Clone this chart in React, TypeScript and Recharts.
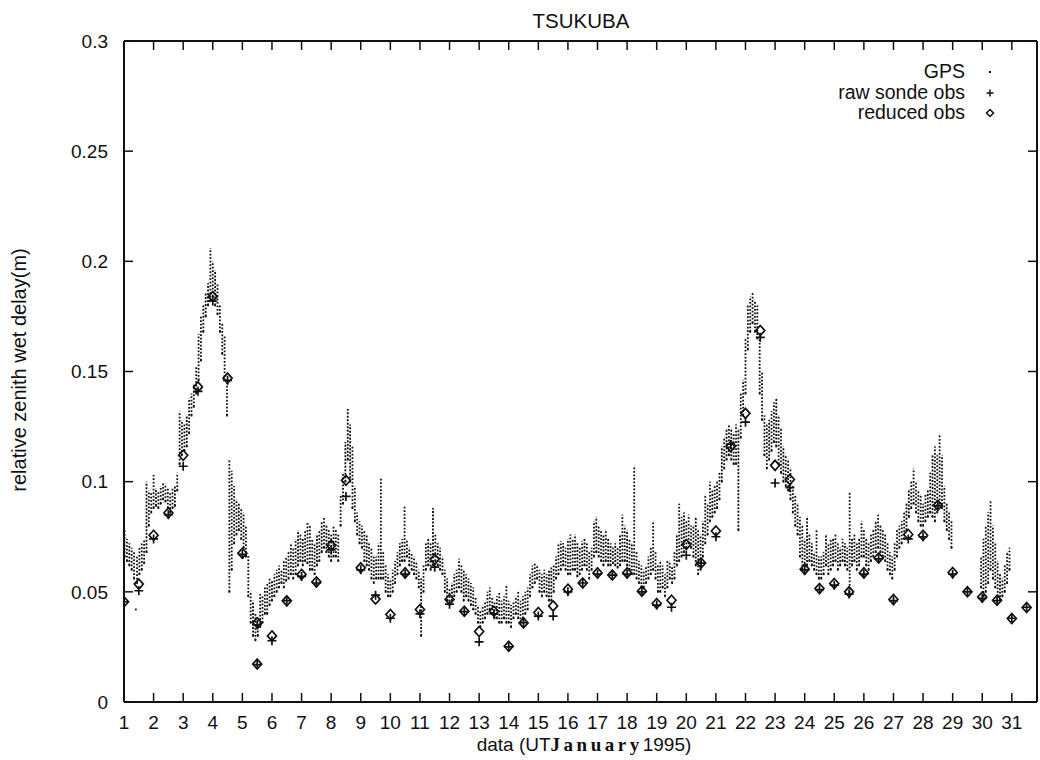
import React from 'react';
import { ScatterChart, Scatter, XAxis, YAxis, ErrorBar, Legend } from 'recharts';

const dayTicks = [1, 2, 3, 4, 5, 6, 7, 8, 9, 10, 11, 12, 13, 14, 15, 16, 17, 18, 19, 20, 21, 22, 23, 24, 25, 26, 27, 28, 29, 30, 31];
const delayTicks = [0, 0.05, 0.1, 0.15, 0.2, 0.25, 0.3];
const delayLabels = ['0', '0.05', '0.1', '0.15', '0.2', '0.25', '0.3'];

// GPS: [day, low, high] of each dotted column
const gpsRanges: [number, number, number][] = [
  [1.02, 0.066, 0.078], [1.1, 0.064, 0.074], [1.18, 0.062, 0.072], [1.26, 0.06, 0.07], [1.34, 0.056, 0.068],
  [1.4, 0.042, 0.042], [1.44, 0.054, 0.066], [1.52, 0.058, 0.07], [1.6, 0.06, 0.072], [1.68, 0.063, 0.074],
  [1.76, 0.068, 0.1], [1.84, 0.08, 0.096], [1.92, 0.086, 0.095], [2.0, 0.088, 0.103], [2.08, 0.089, 0.097],
  [2.16, 0.088, 0.096], [2.24, 0.09, 0.098], [2.32, 0.092, 0.1], [2.4, 0.091, 0.099], [2.48, 0.088, 0.097],
  [2.56, 0.086, 0.095], [2.64, 0.088, 0.097], [2.72, 0.089, 0.098], [2.8, 0.096, 0.104], [2.88, 0.108, 0.132],
  [2.96, 0.112, 0.128], [3.04, 0.114, 0.126], [3.12, 0.116, 0.13], [3.2, 0.122, 0.138], [3.28, 0.13, 0.14],
  [3.36, 0.134, 0.144], [3.44, 0.14, 0.152], [3.52, 0.146, 0.167], [3.6, 0.155, 0.175], [3.68, 0.168, 0.18],
  [3.76, 0.175, 0.186], [3.84, 0.18, 0.19], [3.92, 0.182, 0.206], [4.0, 0.184, 0.2], [4.08, 0.18, 0.196],
  [4.16, 0.176, 0.19], [4.24, 0.168, 0.18], [4.32, 0.158, 0.172], [4.4, 0.146, 0.166], [4.48, 0.13, 0.146],
  [4.56, 0.05, 0.11], [4.64, 0.06, 0.105], [4.72, 0.072, 0.098], [4.8, 0.076, 0.092], [4.88, 0.078, 0.09],
  [4.96, 0.074, 0.088], [5.04, 0.07, 0.086], [5.12, 0.066, 0.08], [5.2, 0.048, 0.067], [5.28, 0.036, 0.05],
  [5.36, 0.03, 0.046], [5.44, 0.028, 0.04], [5.52, 0.03, 0.038], [5.6, 0.034, 0.049], [5.68, 0.036, 0.048],
  [5.76, 0.04, 0.052], [5.84, 0.04, 0.054], [5.92, 0.044, 0.056], [6.0, 0.046, 0.055], [6.08, 0.048, 0.058],
  [6.16, 0.05, 0.06], [6.24, 0.052, 0.062], [6.32, 0.054, 0.06], [6.4, 0.052, 0.064], [6.48, 0.055, 0.066],
  [6.56, 0.056, 0.068], [6.64, 0.058, 0.072], [6.72, 0.056, 0.07], [6.8, 0.058, 0.074], [6.88, 0.062, 0.078],
  [6.96, 0.064, 0.076], [7.04, 0.062, 0.074], [7.12, 0.064, 0.078], [7.2, 0.063, 0.082], [7.28, 0.06, 0.08],
  [7.36, 0.06, 0.074], [7.44, 0.058, 0.072], [7.52, 0.062, 0.076], [7.6, 0.064, 0.078], [7.68, 0.068, 0.082],
  [7.76, 0.07, 0.084], [7.84, 0.068, 0.08], [7.92, 0.066, 0.078], [8.0, 0.064, 0.076], [8.08, 0.066, 0.08],
  [8.16, 0.066, 0.078], [8.24, 0.064, 0.076], [8.32, 0.08, 0.094], [8.4, 0.09, 0.104], [8.48, 0.1, 0.118],
  [8.56, 0.11, 0.133], [8.64, 0.1, 0.126], [8.72, 0.088, 0.116], [8.8, 0.082, 0.098], [8.88, 0.076, 0.086],
  [8.96, 0.072, 0.082], [9.04, 0.07, 0.08], [9.12, 0.064, 0.078], [9.2, 0.062, 0.076], [9.28, 0.06, 0.072],
  [9.36, 0.056, 0.07], [9.44, 0.054, 0.066], [9.52, 0.056, 0.066], [9.6, 0.056, 0.072], [9.68, 0.056, 0.102],
  [9.76, 0.056, 0.068], [9.84, 0.05, 0.062], [9.92, 0.048, 0.058], [10.0, 0.048, 0.056], [10.08, 0.05, 0.06],
  [10.16, 0.054, 0.064], [10.24, 0.058, 0.068], [10.32, 0.062, 0.072], [10.4, 0.064, 0.074], [10.48, 0.064, 0.089],
  [10.56, 0.066, 0.074], [10.64, 0.062, 0.07], [10.72, 0.06, 0.068], [10.8, 0.058, 0.066], [10.88, 0.056, 0.064],
  [10.96, 0.052, 0.06], [11.04, 0.03, 0.056], [11.12, 0.05, 0.062], [11.2, 0.06, 0.072], [11.28, 0.062, 0.074],
  [11.36, 0.06, 0.072], [11.44, 0.062, 0.088], [11.52, 0.064, 0.076], [11.6, 0.062, 0.072], [11.68, 0.06, 0.07],
  [11.76, 0.058, 0.066], [11.84, 0.05, 0.06], [11.92, 0.046, 0.056], [12.0, 0.044, 0.052], [12.08, 0.046, 0.054],
  [12.16, 0.048, 0.058], [12.24, 0.05, 0.06], [12.32, 0.052, 0.065], [12.4, 0.05, 0.062], [12.48, 0.046, 0.06],
  [12.56, 0.048, 0.058], [12.64, 0.046, 0.056], [12.72, 0.044, 0.054], [12.8, 0.042, 0.052], [12.88, 0.04, 0.048],
  [12.96, 0.036, 0.044], [13.04, 0.034, 0.042], [13.12, 0.036, 0.044], [13.2, 0.038, 0.046], [13.28, 0.04, 0.05],
  [13.36, 0.042, 0.052], [13.44, 0.04, 0.048], [13.52, 0.038, 0.046], [13.6, 0.038, 0.048], [13.68, 0.036, 0.05],
  [13.76, 0.036, 0.046], [13.84, 0.038, 0.048], [13.92, 0.036, 0.053], [14.0, 0.036, 0.046], [14.08, 0.034, 0.044],
  [14.16, 0.038, 0.046], [14.24, 0.04, 0.048], [14.32, 0.038, 0.05], [14.4, 0.036, 0.046], [14.48, 0.038, 0.048],
  [14.56, 0.04, 0.05], [14.64, 0.042, 0.052], [14.72, 0.048, 0.058], [14.8, 0.052, 0.062], [14.88, 0.054, 0.063],
  [14.96, 0.056, 0.062], [15.04, 0.05, 0.06], [15.12, 0.048, 0.058], [15.2, 0.05, 0.06], [15.28, 0.048, 0.058],
  [15.36, 0.046, 0.06], [15.44, 0.046, 0.061], [15.52, 0.05, 0.062], [15.6, 0.056, 0.066], [15.68, 0.058, 0.072],
  [15.76, 0.06, 0.073], [15.84, 0.062, 0.072], [15.92, 0.06, 0.07], [16.0, 0.058, 0.074], [16.08, 0.058, 0.076],
  [16.16, 0.06, 0.074], [16.24, 0.06, 0.076], [16.32, 0.057, 0.072], [16.4, 0.058, 0.07], [16.48, 0.06, 0.073],
  [16.56, 0.062, 0.074], [16.64, 0.06, 0.072], [16.72, 0.056, 0.068], [16.8, 0.06, 0.07], [16.88, 0.066, 0.082],
  [16.96, 0.068, 0.084], [17.04, 0.066, 0.08], [17.12, 0.064, 0.078], [17.2, 0.062, 0.076], [17.28, 0.064, 0.078],
  [17.36, 0.062, 0.074], [17.44, 0.062, 0.072], [17.52, 0.063, 0.07], [17.6, 0.062, 0.072], [17.68, 0.061, 0.07],
  [17.76, 0.062, 0.076], [17.84, 0.064, 0.085], [17.92, 0.064, 0.08], [18.0, 0.062, 0.078], [18.08, 0.06, 0.074],
  [18.16, 0.058, 0.072], [18.24, 0.058, 0.107], [18.32, 0.056, 0.068], [18.4, 0.054, 0.064], [18.48, 0.052, 0.062],
  [18.56, 0.052, 0.06], [18.64, 0.054, 0.062], [18.72, 0.056, 0.066], [18.8, 0.058, 0.07], [18.88, 0.06, 0.082],
  [18.96, 0.056, 0.068], [19.04, 0.05, 0.062], [19.12, 0.05, 0.064], [19.2, 0.052, 0.062], [19.28, 0.048, 0.058],
  [19.36, 0.052, 0.064], [19.44, 0.056, 0.064], [19.52, 0.054, 0.062], [19.6, 0.056, 0.068], [19.68, 0.062, 0.076],
  [19.76, 0.064, 0.09], [19.84, 0.066, 0.084], [19.92, 0.068, 0.086], [20.0, 0.07, 0.082], [20.08, 0.072, 0.085],
  [20.16, 0.07, 0.08], [20.24, 0.066, 0.08], [20.32, 0.062, 0.084], [20.4, 0.058, 0.078], [20.48, 0.06, 0.076],
  [20.56, 0.066, 0.082], [20.64, 0.072, 0.094], [20.72, 0.076, 0.09], [20.8, 0.082, 0.1], [20.88, 0.084, 0.096],
  [20.96, 0.086, 0.098], [21.04, 0.088, 0.1], [21.12, 0.092, 0.104], [21.2, 0.1, 0.116], [21.28, 0.106, 0.12],
  [21.36, 0.11, 0.124], [21.44, 0.112, 0.126], [21.52, 0.11, 0.124], [21.6, 0.108, 0.122], [21.68, 0.108, 0.126],
  [21.76, 0.078, 0.124], [21.84, 0.12, 0.14], [21.92, 0.13, 0.146], [22.0, 0.14, 0.165], [22.08, 0.16, 0.18],
  [22.16, 0.168, 0.184], [22.24, 0.172, 0.186], [22.32, 0.168, 0.182], [22.4, 0.165, 0.18], [22.48, 0.14, 0.166],
  [22.56, 0.128, 0.15], [22.64, 0.112, 0.13], [22.72, 0.106, 0.126], [22.8, 0.11, 0.128], [22.88, 0.114, 0.132],
  [22.96, 0.118, 0.136], [23.04, 0.116, 0.138], [23.12, 0.108, 0.13], [23.2, 0.104, 0.124], [23.28, 0.1, 0.116],
  [23.36, 0.098, 0.112], [23.44, 0.096, 0.11], [23.52, 0.092, 0.106], [23.6, 0.086, 0.098], [23.68, 0.08, 0.094],
  [23.76, 0.076, 0.09], [23.84, 0.066, 0.084], [23.92, 0.06, 0.08], [24.0, 0.058, 0.074], [24.08, 0.062, 0.084],
  [24.16, 0.064, 0.076], [24.24, 0.062, 0.072], [24.32, 0.06, 0.068], [24.4, 0.058, 0.078], [24.48, 0.056, 0.066],
  [24.56, 0.056, 0.066], [24.64, 0.058, 0.068], [24.72, 0.062, 0.076], [24.8, 0.058, 0.072], [24.88, 0.06, 0.074],
  [24.96, 0.062, 0.074], [25.04, 0.064, 0.076], [25.12, 0.06, 0.072], [25.2, 0.062, 0.07], [25.28, 0.064, 0.074],
  [25.36, 0.062, 0.072], [25.44, 0.06, 0.07], [25.52, 0.048, 0.095], [25.6, 0.062, 0.074], [25.68, 0.064, 0.076],
  [25.76, 0.06, 0.072], [25.84, 0.062, 0.074], [25.92, 0.066, 0.082], [26.0, 0.066, 0.078], [26.08, 0.062, 0.074],
  [26.16, 0.06, 0.072], [26.24, 0.064, 0.076], [26.32, 0.066, 0.078], [26.4, 0.068, 0.082], [26.48, 0.07, 0.085],
  [26.56, 0.068, 0.08], [26.64, 0.066, 0.078], [26.72, 0.064, 0.076], [26.8, 0.06, 0.072], [26.88, 0.058, 0.068],
  [26.96, 0.056, 0.066], [27.04, 0.06, 0.072], [27.12, 0.066, 0.078], [27.2, 0.07, 0.08], [27.28, 0.072, 0.082],
  [27.36, 0.074, 0.086], [27.44, 0.078, 0.09], [27.52, 0.084, 0.096], [27.6, 0.088, 0.1], [27.68, 0.09, 0.106],
  [27.76, 0.086, 0.1], [27.84, 0.082, 0.096], [27.92, 0.08, 0.094], [28.0, 0.08, 0.09], [28.08, 0.082, 0.094],
  [28.16, 0.084, 0.096], [28.24, 0.086, 0.104], [28.32, 0.084, 0.112], [28.4, 0.082, 0.116], [28.48, 0.086, 0.112],
  [28.56, 0.09, 0.121], [28.64, 0.088, 0.112], [28.72, 0.082, 0.098], [28.8, 0.078, 0.09], [28.88, 0.074, 0.086],
  [28.96, 0.07, 0.082],
  [29.96, 0.052, 0.066], [30.04, 0.048, 0.074], [30.12, 0.05, 0.08], [30.2, 0.054, 0.086], [30.28, 0.06, 0.091],
  [30.36, 0.056, 0.08], [30.44, 0.052, 0.072], [30.52, 0.048, 0.064], [30.6, 0.046, 0.058], [30.68, 0.048, 0.056],
  [30.76, 0.05, 0.062], [30.84, 0.054, 0.068], [30.92, 0.06, 0.07],
];

// sonde launches, twice a day (5.5 has two reports)
const obsDays = [
  1, 1.5, 2, 2.5, 3, 3.5, 4, 4.5, 5, 5.5, 5.5, 6, 6.5, 7, 7.5, 8, 8.5, 9, 9.5, 10, 10.5, 11, 11.5, 12, 12.5,
  13, 13.5, 14, 14.5, 15, 15.5, 16, 16.5, 17, 17.5, 18, 18.5, 19, 19.5, 20, 20.5, 21, 21.5, 22, 22.5, 23, 23.5,
  24, 24.5, 25, 25.5, 26, 26.5, 27, 27.5, 28, 28.5, 29, 29.5, 30, 30.5, 31, 31.5,
];
const rawSondeObs = [
  0.0455, 0.0505, 0.074, 0.085, 0.107, 0.141, 0.182, 0.146, 0.067, 0.035, 0.017, 0.0278, 0.046, 0.057, 0.054,
  0.069, 0.0933, 0.06, 0.0485, 0.038, 0.058, 0.04, 0.0612, 0.0444, 0.041, 0.0273, 0.04, 0.025, 0.036, 0.039,
  0.039, 0.05, 0.054, 0.058, 0.0576, 0.058, 0.05, 0.044, 0.043, 0.0666, 0.063, 0.075, 0.117, 0.127, 0.1655,
  0.0994, 0.0973, 0.06, 0.051, 0.053, 0.049, 0.058, 0.065, 0.046, 0.074, 0.075, 0.089, 0.058, 0.05, 0.047,
  0.046, 0.038, 0.043,
];
const reducedObs = [
  0.0455, 0.0535, 0.0757, 0.0858, 0.112, 0.143, 0.184, 0.147, 0.0675, 0.036, 0.0172, 0.03, 0.0459, 0.0579, 0.0545,
  0.0711, 0.1006, 0.0609, 0.0467, 0.0397, 0.0586, 0.042, 0.0648, 0.0465, 0.0412, 0.032, 0.0412, 0.0253, 0.0359, 0.0406,
  0.0436, 0.0512, 0.054, 0.0586, 0.0576, 0.0586, 0.0503, 0.0447, 0.0462, 0.0715, 0.0631, 0.0776, 0.116, 0.131, 0.1686,
  0.1074, 0.101, 0.0603, 0.0515, 0.0538, 0.05, 0.0586, 0.0654, 0.0465, 0.076, 0.0757, 0.0893, 0.0588, 0.05, 0.0477,
  0.0462, 0.0379, 0.0429,
];

const gpsData = gpsRanges.map(([day, low, high]) => ({ day, value: low, spread: [0, high - low] }));
const rawData = obsDays.map((day, i) => ({ day, value: rawSondeObs[i] }));
const reducedData = obsDays.map((day, i) => ({ day, value: reducedObs[i] }));

const INK = '#111';
const FONT = '"Liberation Sans", Arial, Helvetica, sans-serif';
const TICK_LEN = 9;
const STUB = 1; // recharts' own tick size, kept tiny
const X_GAP = 13; // label offset below the bottom axis
const Y_GAP = 15; // label offset left of the left axis

const GpsDot = (props: any) => (
  <rect x={props.cx - 0.9} y={props.cy - 0.9} width={1.8} height={1.8} fill={INK} />
);
const PlusMark = (props: any) => {
  const { cx, cy } = props;
  return <path d={`M${cx - 4.5},${cy}h9M${cx},${cy - 4.5}v9`} stroke={INK} strokeWidth={1.7} fill="none" />;
};
const DiamondMark = (props: any) => {
  const { cx, cy } = props;
  return (
    <path
      d={`M${cx},${cy - 5}L${cx + 4.5},${cy}L${cx},${cy + 5}L${cx - 4.5},${cy}Z`}
      stroke={INK}
      strokeWidth={1.7}
      fill="none"
    />
  );
};
const NoMark = () => <g />;

// gnuplot style: tick marks point into the plot
const BottomTick = (props: any) => {
  const { x, y, payload } = props;
  const axisY = y - X_GAP - STUB;
  return (
    <g>
      <line x1={x} x2={x} y1={axisY} y2={axisY - TICK_LEN} stroke={INK} strokeWidth={1.5} />
      <text x={x} y={y} dy="0.71em" textAnchor="middle" fill={INK} fontSize={19} fontFamily={FONT}>
        {payload.value}
      </text>
    </g>
  );
};
const LeftTick = (props: any) => {
  const { x, y, payload } = props;
  const axisX = x + Y_GAP + STUB;
  return (
    <g>
      <line x1={axisX} x2={axisX + TICK_LEN} y1={y} y2={y} stroke={INK} strokeWidth={1.5} />
      <text x={x} y={y} dy="0.355em" textAnchor="end" fill={INK} fontSize={19} fontFamily={FONT}>
        {delayLabels[delayTicks.indexOf(payload.value)] ?? payload.value}
      </text>
    </g>
  );
};
const TopTick = (props: any) => {
  const axisY = props.y + STUB;
  return <line x1={props.x} x2={props.x} y1={axisY} y2={axisY + TICK_LEN} stroke={INK} strokeWidth={1.5} />;
};
const RightTick = (props: any) => {
  const axisX = props.x - STUB;
  return <line x1={axisX} x2={axisX - TICK_LEN} y1={props.y} y2={props.y} stroke={INK} strokeWidth={1.5} />;
};

const legendRows = [
  { name: 'GPS', symbol: <rect x={24} y={10} width={2} height={2} fill={INK} /> },
  { name: 'raw sonde obs', symbol: <path d="M21.5,11h7M25,7.5v7" stroke={INK} strokeWidth={1.5} fill="none" /> },
  { name: 'reduced obs', symbol: <path d="M25,7.5L28.5,11L25,14.5L21.5,11Z" stroke={INK} strokeWidth={1.5} fill="none" /> },
];

function renderLegend() {
  return (
    <div style={{ fontFamily: FONT, fontSize: 19.5, color: INK }}>
      {legendRows.map((row) => (
        <div key={row.name} style={{ display: 'flex', height: 20.5, lineHeight: '20.5px' }}>
          <div style={{ width: 265, textAlign: 'right' }}>{row.name}</div>
          <svg width={50} height={20.5}>{row.symbol}</svg>
        </div>
      ))}
    </div>
  );
}

const axisLine = { stroke: INK, strokeWidth: 2 };

export default function App() {
  return (
    <div style={{ position: 'absolute', left: 0, top: 0, background: '#fff' }}>
      <ScatterChart width={1040} height={760} margin={{ top: 40, right: 2, bottom: 18, left: 60 }}>
        <XAxis
          dataKey="day"
          type="number"
          domain={[1, 31.85]}
          ticks={dayTicks}
          allowDataOverflow
          height={40}
          tickSize={STUB}
          tickMargin={X_GAP}
          axisLine={axisLine}
          tickLine={false}
          tick={BottomTick}
          interval={0}
        />
        <XAxis
          xAxisId="top"
          orientation="top"
          dataKey="day"
          type="number"
          domain={[1, 31.85]}
          ticks={dayTicks}
          allowDataOverflow
          height={1}
          tickSize={STUB}
          tickMargin={0}
          axisLine={axisLine}
          tickLine={false}
          tick={TopTick}
          interval={0}
        />
        <YAxis
          dataKey="value"
          type="number"
          domain={[0, 0.3]}
          ticks={delayTicks}
          allowDataOverflow
          width={64}
          tickSize={STUB}
          tickMargin={Y_GAP}
          axisLine={axisLine}
          tickLine={false}
          tick={LeftTick}
          interval={0}
        />
        <YAxis
          yAxisId="right"
          orientation="right"
          dataKey="value"
          type="number"
          domain={[0, 0.3]}
          ticks={delayTicks}
          allowDataOverflow
          width={1}
          tickSize={STUB}
          tickMargin={0}
          axisLine={axisLine}
          tickLine={false}
          tick={RightTick}
          interval={0}
        />
        <Legend
          layout="vertical"
          align="center"
          verticalAlign="middle"
          content={renderLegend}
          wrapperStyle={{ top: 61, left: 700, width: 320, height: 62 }}
        />
        <Scatter name="GPS" data={gpsData} shape={GpsDot} isAnimationActive={false}>
          <ErrorBar
            dataKey="spread"
            direction="y"
            width={0}
            stroke={INK}
            strokeWidth={1.8}
            strokeDasharray="1.8 1.7"
            isAnimationActive={false}
          />
        </Scatter>
        <Scatter name="raw sonde obs" data={rawData} shape={PlusMark} isAnimationActive={false} />
        <Scatter name="reduced obs" data={reducedData} shape={DiamondMark} isAnimationActive={false} />
        {/* carries the mirrored top/right axes */}
        <Scatter
          name="frame"
          xAxisId="top"
          yAxisId="right"
          data={reducedData}
          shape={NoMark}
          legendType="none"
          isAnimationActive={false}
        />
        <text x={581} y={28} textAnchor="middle" fontFamily={FONT} fontSize={20.5} fill={INK}>
          TSUKUBA
        </text>
        <text
          x={26}
          y={370}
          transform="rotate(-90 26 370)"
          textAnchor="middle"
          fontFamily={FONT}
          fontSize={20}
          fill={INK}
        >
          relative zenith wet delay(m)
        </text>
        <text x={584} y={751} textAnchor="middle" fontFamily={FONT} fontSize={19} fill={INK}>
          data (UT
          <tspan fontFamily='"Liberation Serif", "Times New Roman", serif' fontWeight="bold" letterSpacing={3.5}>
            January
          </tspan>
          1995)
        </text>
      </ScatterChart>
    </div>
  );
}
